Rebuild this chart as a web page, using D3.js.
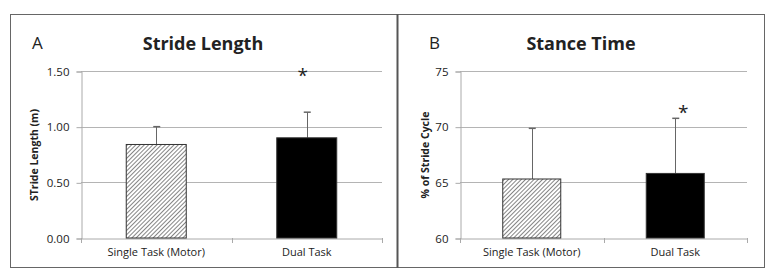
<!DOCTYPE html>
<html>
<head>
<meta charset="utf-8">
<script src="https://cdn.jsdelivr.net/npm/d3@7"></script>
<style>
  body { margin: 0; background: #fff; }
  text { font-family: "Open Sans", sans-serif; fill: #222; }
</style>
</head>
<body>
<div id="chart"></div>
<script>
// data
const categories = ["Single Task (Motor)", "Dual Task"];
const strideMeans = [0.84, 0.90];
const strideErrs = [0.16, 0.23];
const strideTicks = [0, 0.5, 1.0, 1.5];
const stanceMeans = [65.3, 65.8];
const stanceErrs = [4.55, 4.95];
const stanceTicks = [60, 65, 70, 75];
const starred = [false, true];

const svg = d3.select("#chart").append("svg")
    .attr("width", 768)
    .attr("height", 272);

// hatch for the single-task bars
const pat = svg.append("defs").append("pattern")
    .attr("id", "hatch")
    .attr("patternUnits", "userSpaceOnUse")
    .attr("width", 3)
    .attr("height", 3)
    .attr("patternTransform", "rotate(45)");
pat.append("rect").attr("width", 3).attr("height", 3).attr("fill", "#fff");
pat.append("line")
    .attr("x1", 0).attr("y1", 0).attr("x2", 0).attr("y2", 3)
    .attr("stroke", "#666").attr("stroke-width", 1.6);

// panel frames
svg.append("rect")
    .attr("x", 10.5).attr("y", 14.5)
    .attr("width", 754).attr("height", 253)
    .attr("fill", "none").attr("stroke", "#666");
svg.append("line")
    .attr("x1", 397.5).attr("x2", 397.5).attr("y1", 14).attr("y2", 268)
    .attr("stroke", "#555").attr("stroke-width", 2);

function drawPanel(opt) {
    let g = svg.append("g");

    let y = d3.scaleLinear().domain(opt.domain).range([238, 71]);
    let x = d3.scaleBand().domain(categories).range([opt.left, opt.right]);

    // gridlines
    g.selectAll(".grid")
        .data(opt.ticks.slice(1))
        .enter().append("line")
        .attr("x1", opt.left).attr("x2", opt.right)
        .attr("y1", d => Math.round(y(d)) + 0.5)
        .attr("y2", d => Math.round(y(d)) + 0.5)
        .attr("stroke", "#b4b4b4");

    // y axis
    let yAxis = g.append("g")
        .attr("transform", `translate(${opt.left + 0.5},0.5)`)
        .call(d3.axisLeft(y).tickValues(opt.ticks).tickFormat(opt.fmt).tickSize(5).tickPadding(7));
    yAxis.select(".domain").attr("stroke", "#aaa");
    yAxis.selectAll(".tick line").attr("stroke", "#aaa");
    yAxis.selectAll("text")
        .style("font-size", "11.5px")
        .style("font-family", "'Open Sans', sans-serif")
        .attr("fill", "#444");

    // x axis
    let xAxis = g.append("g")
        .attr("transform", `translate(0,${238.5})`)
        .call(d3.axisBottom(x).tickSize(0).tickPadding(10));
    xAxis.select(".domain").attr("stroke", "#aaa");
    xAxis.selectAll("text")
        .style("font-size", "11px")
        .style("font-family", "'Open Sans', sans-serif")
        .attr("fill", "#333");
    g.selectAll(".xtick")
        .data([opt.left, (opt.left + opt.right) / 2, opt.right])
        .enter().append("line")
        .attr("x1", d => Math.round(d) + 0.5).attr("x2", d => Math.round(d) + 0.5)
        .attr("y1", 238).attr("y2", 243)
        .attr("stroke", "#aaa");

    let bw = opt.barW;
    let cx = d => x(d) + x.bandwidth() / 2;

    // error bars (upper whisker only)
    g.selectAll(".err")
        .data(categories)
        .enter().append("line")
        .attr("x1", d => Math.round(cx(d)) + 0.5).attr("x2", d => Math.round(cx(d)) + 0.5)
        .attr("y1", (d, i) => y(opt.means[i]))
        .attr("y2", (d, i) => y(opt.means[i] + opt.errs[i]))
        .attr("stroke", "#666");
    g.selectAll(".cap")
        .data(categories)
        .enter().append("line")
        .attr("x1", d => cx(d) - 3).attr("x2", d => cx(d) + 4)
        .attr("y1", (d, i) => y(opt.means[i] + opt.errs[i]))
        .attr("y2", (d, i) => y(opt.means[i] + opt.errs[i]))
        .attr("stroke", "#666").attr("stroke-width", 1.5);

    // bars
    g.selectAll(".bar")
        .data(categories)
        .enter().append("rect")
        .attr("x", d => cx(d) - bw / 2)
        .attr("width", bw)
        .attr("y", (d, i) => y(opt.means[i]))
        .attr("height", (d, i) => y(opt.domain[0]) - y(opt.means[i]))
        .attr("fill", (d, i) => i === 0 ? "url(#hatch)" : "#000")
        .attr("stroke", "#333")
        .attr("stroke-width", 1);

    // significance stars
    g.selectAll(".star")
        .data(categories.filter((d, i) => starred[i]))
        .enter().append("text")
        .attr("x", d => cx(d) + opt.starDx)
        .attr("y", opt.starY)
        .attr("text-anchor", "middle")
        .style("font-size", "19px")
        .text("*");

    // title and panel letter
    g.append("text")
        .attr("x", opt.titleX).attr("y", 50)
        .attr("text-anchor", "middle")
        .style("font-size", "18px")
        .style("font-weight", "bold")
        .text(opt.title);
    g.append("text")
        .attr("x", opt.letterX).attr("y", 49)
        .style("font-size", "17px")
        .text(opt.letter);

    // y label
    g.append("text")
        .attr("transform", `translate(${opt.labelX},155) rotate(-90)`)
        .attr("text-anchor", "middle")
        .style("font-size", "10.5px")
        .style("font-weight", "bold")
        .text(opt.yLabel);
}

drawPanel({
    left: 81, right: 382, domain: [0, 1.5], ticks: strideTicks,
    fmt: d3.format(".2f"), means: strideMeans, errs: strideErrs,
    barW: 60, starDx: -4, starY: 82,
    title: "Stride Length", titleX: 203, letter: "A", letterX: 32,
    yLabel: "STride Length (m)", labelX: 38
});

drawPanel({
    left: 460, right: 747, domain: [60, 75], ticks: stanceTicks,
    fmt: d3.format("d"), means: stanceMeans, errs: stanceErrs,
    barW: 58, starDx: 8, starY: 119,
    title: "Stance Time", titleX: 581, letter: "B", letterX: 429,
    yLabel: "% of Stride Cycle", labelX: 429
});
</script>
</body>
</html>
